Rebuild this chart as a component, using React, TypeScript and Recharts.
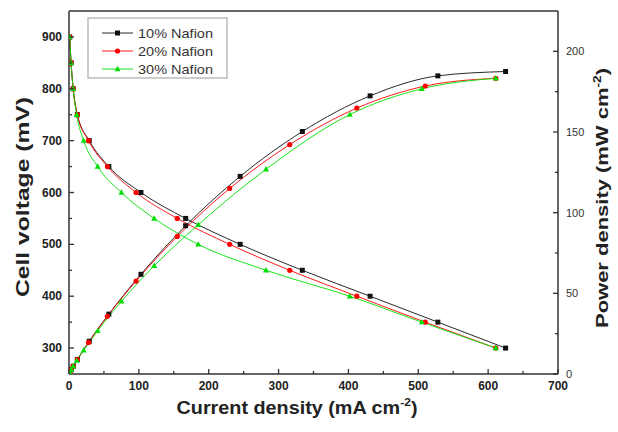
import { LineChart, Line, XAxis, YAxis, ReferenceLine } from "recharts";

const voltages = [900, 850, 800, 750, 700, 650, 600, 550, 500, 450, 400, 350, 300];
const current10 = [1, 3, 6, 12, 29, 57, 103, 167, 245, 334, 431, 528, 625];
const current20 = [1, 3, 6, 12, 28, 55, 96, 155, 230, 316, 412, 510, 611];
const current30 = [1, 3, 6, 11, 21, 41, 75, 122, 185, 282, 402, 505, 611];
const power10 = [0.9, 2.6, 4.8, 9.0, 20.3, 37.1, 61.8, 91.9, 122.5, 150.3, 172.4, 184.8, 187.5];
const power20 = [0.9, 2.6, 4.8, 9.0, 19.6, 35.8, 57.6, 85.3, 115.0, 142.2, 164.8, 178.5, 183.3];
const power30 = [0.9, 2.6, 4.8, 8.3, 14.7, 26.7, 45.0, 67.1, 92.5, 126.9, 160.8, 176.8, 183.3];

const currentTicks = [0, 50, 100, 150, 200, 250, 300, 350, 400, 450, 500, 550, 600, 650, 700];
const voltageTicks = [300, 350, 400, 450, 500, 550, 600, 650, 700, 750, 800, 850, 900];
const powerTicks = [0, 25, 50, 75, 100, 125, 150, 175, 200];

const seriesNames = ["10% Nafion", "20% Nafion", "30% Nafion"];
const seriesColors = ["#111111", "#ff0000", "#00e000"];

const AXIS = "#333";
const FONT = "Arial, 'Liberation Sans', sans-serif";

const toVoltage = (cur: number[]) => cur.map((i, k) => ({ i, v: voltages[k] }));
const toPower = (cur: number[], pw: number[]) => cur.map((i, k) => ({ i, p: pw[k] }));

const marker = (shape: number, color: string, cx: number, cy: number, key?: string) => {
  if (shape === 0)
    return <rect key={key} x={cx - 2.5} y={cy - 2.5} width={5} height={5} fill={color} />;
  if (shape === 1) return <circle key={key} cx={cx} cy={cy} r={2.6} fill={color} />;
  return (
    <path
      key={key}
      d={`M${cx},${cy - 3.2}L${cx + 3},${cy + 2.2}L${cx - 3},${cy + 2.2}Z`}
      fill={color}
    />
  );
};

const dotFor = (shape: number, color: string) => (props: any) =>
  marker(shape, color, props.cx, props.cy, `d${shape}-${props.index}`);

const makeTick = (side: "bottom" | "left" | "right", major: number) => (props: any) => {
  const { x, y, payload } = props;
  const val = payload.value;
  const isMajor = val % major === 0;
  const len = isMajor ? 5 : 3;
  let line;
  let label = null;
  if (side === "bottom") {
    line = <line x1={x} y1={y} x2={x} y2={y - len} stroke={AXIS} strokeWidth={1.3} />;
    if (isMajor)
      label = (
        <text x={x} y={y + 16} textAnchor="middle" fontSize={12} fontWeight="bold" fill="#222" fontFamily={FONT}>
          {val}
        </text>
      );
  } else if (side === "left") {
    line = <line x1={x} y1={y} x2={x + len} y2={y} stroke={AXIS} strokeWidth={1.3} />;
    if (isMajor)
      label = (
        <text x={x - 7} y={y + 4} textAnchor="end" fontSize={12} fontWeight="bold" fill="#222" fontFamily={FONT}>
          {val}
        </text>
      );
  } else {
    line = <line x1={x} y1={y} x2={x - len} y2={y} stroke={AXIS} strokeWidth={1.3} />;
    if (isMajor)
      label = (
        <text x={x + 8} y={y + 4} textAnchor="start" fontSize={11} fill="#333" fontFamily={FONT}>
          {val}
        </text>
      );
  }
  return (
    <g>
      {line}
      {label}
    </g>
  );
};

const App = () => {
  const currents = [current10, current20, current30];
  const powers = [power10, power20, power30];
  return (
    <div style={{ position: "absolute", left: 0, top: 0, width: 618, height: 432, background: "#fff" }}>
      <LineChart width={618} height={432} margin={{ top: 11, right: 0, bottom: 28, left: 9 }}>
        <XAxis
          type="number"
          dataKey="i"
          domain={[0, 700]}
          ticks={currentTicks}
          tickSize={0}
          tickMargin={0}
          height={30}
          stroke={AXIS}
          axisLine={{ stroke: AXIS, strokeWidth: 1.5 }}
          tickLine={false}
          tick={makeTick("bottom", 100)}
          allowDataOverflow
        />
        <YAxis
          yAxisId="v"
          type="number"
          domain={[250, 950]}
          ticks={voltageTicks}
          width={60}
          tickSize={0}
          tickMargin={0}
          axisLine={{ stroke: AXIS, strokeWidth: 1.5 }}
          tickLine={false}
          tick={makeTick("left", 100)}
          allowDataOverflow
        />
        <YAxis
          yAxisId="p"
          orientation="right"
          type="number"
          domain={[0, 225]}
          ticks={powerTicks}
          width={60}
          tickSize={0}
          tickMargin={0}
          axisLine={{ stroke: AXIS, strokeWidth: 1.5 }}
          tickLine={false}
          tick={makeTick("right", 50)}
          allowDataOverflow
        />
        <ReferenceLine yAxisId="v" y={950} stroke={AXIS} strokeWidth={1.5} />
        {currents.map((cur, k) => (
          <Line
            key={`v${k}`}
            yAxisId="v"
            data={toVoltage(cur)}
            dataKey="v"
            type="monotone"
            stroke={seriesColors[k]}
            strokeWidth={0.9}
            dot={dotFor(k, seriesColors[k])}
            activeDot={false}
            isAnimationActive={false}
          />
        ))}
        {currents.map((cur, k) => (
          <Line
            key={`p${k}`}
            yAxisId="p"
            data={toPower(cur, powers[k])}
            dataKey="p"
            type="monotone"
            stroke={seriesColors[k]}
            strokeWidth={0.9}
            dot={dotFor(k, seriesColors[k])}
            activeDot={false}
            isAnimationActive={false}
          />
        ))}
      </LineChart>
      <svg
        width={618}
        height={432}
        style={{ position: "absolute", left: 0, top: 0, pointerEvents: "none" }}
        fontFamily={FONT}
      >
        <rect x={88} y={18} width={139} height={60} fill="#fff" stroke="#999" strokeWidth={1} />
        {seriesNames.map((name, k) => {
          const y = 33 + k * 18;
          return (
            <g key={name}>
              <line x1={102} y1={y} x2={133} y2={y} stroke={seriesColors[k]} strokeWidth={0.9} />
              {marker(k, seriesColors[k], 117.5, y)}
              <text x={138} y={y + 4.5} fontSize={13} fill="#333" textLength={75} lengthAdjust="spacingAndGlyphs">
                {name}
              </text>
            </g>
          );
        })}
        <text
          transform="translate(29,197) rotate(-90)"
          textAnchor="middle"
          fontSize={18}
          fontWeight="bold"
          fill="#222"
          textLength={200}
          lengthAdjust="spacingAndGlyphs"
        >
          Cell voltage (mV)
        </text>
        <text
          transform="translate(608,198) rotate(-90)"
          textAnchor="middle"
          fontSize={16}
          fontWeight="bold"
          fill="#222"
          textLength={260}
          lengthAdjust="spacingAndGlyphs"
        >
          Power density (mW cm
          <tspan fontSize={10} dy={-7}>
            -2
          </tspan>
          <tspan dy={7}>)</tspan>
        </text>
        <text
          x={297}
          y={414}
          textAnchor="middle"
          fontSize={18}
          fontWeight="bold"
          fill="#222"
          textLength={241}
          lengthAdjust="spacingAndGlyphs"
        >
          Current density (mA cm
          <tspan fontSize={11} dy={-8}>
            -2
          </tspan>
          <tspan dy={8}>)</tspan>
        </text>
      </svg>
    </div>
  );
};

export default App;
